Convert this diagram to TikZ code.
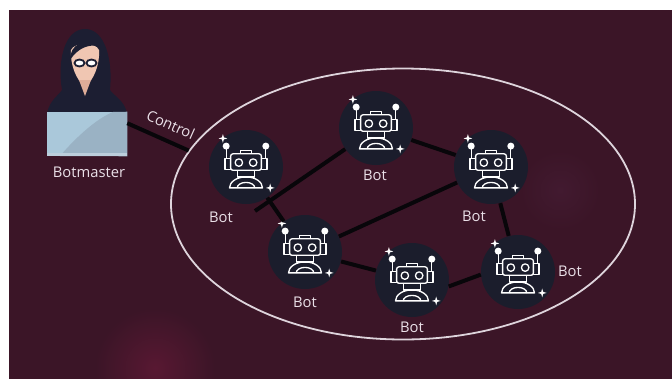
\documentclass[tikz,border=0pt]{standalone}
\usepackage{fontspec}
\setmainfont{Open Sans}
\usetikzlibrary{shapes.geometric}

\definecolor{bgmaroon}{RGB}{59,21,39}
\definecolor{glowred}{RGB}{88,24,50}
\definecolor{glowpurple}{RGB}{66,26,48}
\definecolor{botnavy}{RGB}{27,29,44}
\definecolor{hoodnavy}{RGB}{28,30,50}
\definecolor{skin}{RGB}{240,198,178}
\definecolor{skinshade}{RGB}{222,172,152}
\definecolor{lapblue}{RGB}{170,200,218}
\definecolor{lapshade}{RGB}{154,178,196}
\definecolor{lapbase}{RGB}{188,206,220}
\definecolor{labelwhite}{RGB}{234,224,232}
\definecolor{ringwhite}{RGB}{222,212,220}
\definecolor{linkblack}{RGB}{8,6,10}

\tikzset{
  robot/.pic={
    \begin{scope}[scale=1.1, draw=white, line width=0.33mm, line join=round]
      %arms
      \draw (-18,-18) -- (-18,-8);
      \draw (18,-18) -- (18,-8);
      \fill[white] (-18,-19) circle (3.2);
      \fill[white] (18,-19) circle (3.2);
      %ears
      \draw (-19,-8) rectangle (-14,2);
      \draw (14,-8) rectangle (19,2);
      %head
      \draw[rounded corners=0.6mm] (-14,-12) rectangle (14,3);
      \draw (-5,-15) rectangle (5,-12);
      \draw (-6.5,-4) circle (3.4);
      \draw (6.5,-4) circle (3.4);
      \draw (-8,3) rectangle (8,9);
      %body
      \draw (-15,19) arc (180:360:15 and 10) -- cycle;
      \draw (-8,19) arc (180:360:8 and 5);
      %sparkles
      \fill[white, shift={(-21,-26)}] (0,-4) -- (0.9,-0.9) -- (4,0) -- (0.9,0.9) -- (0,4) -- (-0.9,0.9) -- (-4,0) -- (-0.9,-0.9) -- cycle;
      \fill[white, shift={(22,19)}] (0,-4) -- (0.9,-0.9) -- (4,0) -- (0.9,0.9) -- (0,4) -- (-0.9,0.9) -- (-4,0) -- (-0.9,-0.9) -- cycle;
    \end{scope}
  }
}

\begin{document}
\begin{tikzpicture}[x=0.25mm, y=-0.25mm,
    bot/.style={circle, fill=botnavy, minimum size=18.5mm, inner sep=0pt},
    botlabel/.style={text=labelwhite, font=\fontsize{10.5}{12}\selectfont},
    link/.style={draw=linkblack, line width=1mm}]
  \useasboundingbox (0,0) rectangle (672,378);

  %Background
  \fill[white] (0,0) rectangle (672,378);
  \fill[bgmaroon] (9,10) rectangle (676,382);
  \begin{scope}
    \clip (9,10) rectangle (676,382);
    \shade[inner color=glowred, outer color=bgmaroon] (155,368) circle (60);
    \shade[inner color=glowpurple, outer color=bgmaroon] (560,190) circle (40);
  \end{scope}

  %Botmaster
  \fill[hoodnavy] (47,113) .. controls (50,100) and (58,96) .. (62,90)
    .. controls (57,60) and (65,29) .. (85,29)
    .. controls (105,29) and (113,60) .. (110,90)
    .. controls (114,96) and (124,100) .. (127,113) -- cycle;
  \fill[skin] (71,50) .. controls (70,64) and (76,80) .. (85,87)
    .. controls (94,80) and (100,64) .. (99,50)
    .. controls (96,42) and (74,42) .. cycle;
  \fill[skinshade] (79,80) -- (91,80) -- (85,96) -- cycle;
  \fill[hoodnavy] (70,60) .. controls (70,44) and (84,38) .. (100,46)
    .. controls (88,44) and (78,48) .. (70,60) -- cycle;
  \draw[hoodnavy, line width=0.45mm, fill=white] (79.5,63) ellipse (5 and 3.5);
  \draw[hoodnavy, line width=0.45mm, fill=white] (91.5,63) ellipse (5 and 3.5);

  %Nodes
  \node[fill=lapblue, minimum width=20mm, minimum height=11mm, inner sep=0pt] at (87,134) (laptop) {};
  \node[ellipse, draw=ringwhite, line width=0.45mm, minimum width=116mm, minimum height=67.75mm, inner sep=0pt] at (403,204) (botnet) {};
  \node[bot] at (246,167) (bw)  {};
  \node[bot] at (376,128) (bn)  {};
  \node[bot] at (491,167) (bne) {};
  \node[bot] at (305,252) (bsw) {};
  \node[bot] at (412,280) (bs)  {};
  \node[bot] at (518,272) (bse) {};
  \coordinate (tee) at (255,211);

  %Laptop shading
  \fill[lapshade] (laptop.north east) -- (laptop.south east) -- (60,156)
    .. controls (78,135) and (98,118) .. (113,112) -- cycle;
  \fill[lapbase] (47,153) rectangle (127,156);

  %Robots
  \pic at (bw)  {robot};
  \pic at (bn)  {robot};
  \pic at (bne) {robot};
  \pic at (bsw) {robot};
  \pic at (bs)  {robot};
  \pic at (bse) {robot};

  %Labels
  \node[botlabel] at (89,172)  (lbm)  {Botmaster};
  \node[botlabel] at (221,217) (lbw)  {Bot};
  \node[botlabel] at (375,175) (lbn)  {Bot};
  \node[botlabel] at (474,216) (lbne) {Bot};
  \node[botlabel] at (305,302) (lbsw) {Bot};
  \node[botlabel] at (412,327) (lbs)  {Bot};
  \node[botlabel] at (570,271) (lbse) {Bot};

  %Lines
  \draw[link] (laptop.15) -- node[botlabel, pos=0.6, sloped, above=1mm] {Control} (botnet.166);
  \draw[link] (bn) -- (tee);
  \draw[link] (bw) -- (bsw);
  \draw[link] (bn) -- (bne);
  \draw[link] (bsw) -- (bne);
  \draw[link] (bne) -- (bse);
  \draw[link] (bsw) -- (bs);
  \draw[link] (bs.-10) -- (bse.184);
\end{tikzpicture}
\end{document}
